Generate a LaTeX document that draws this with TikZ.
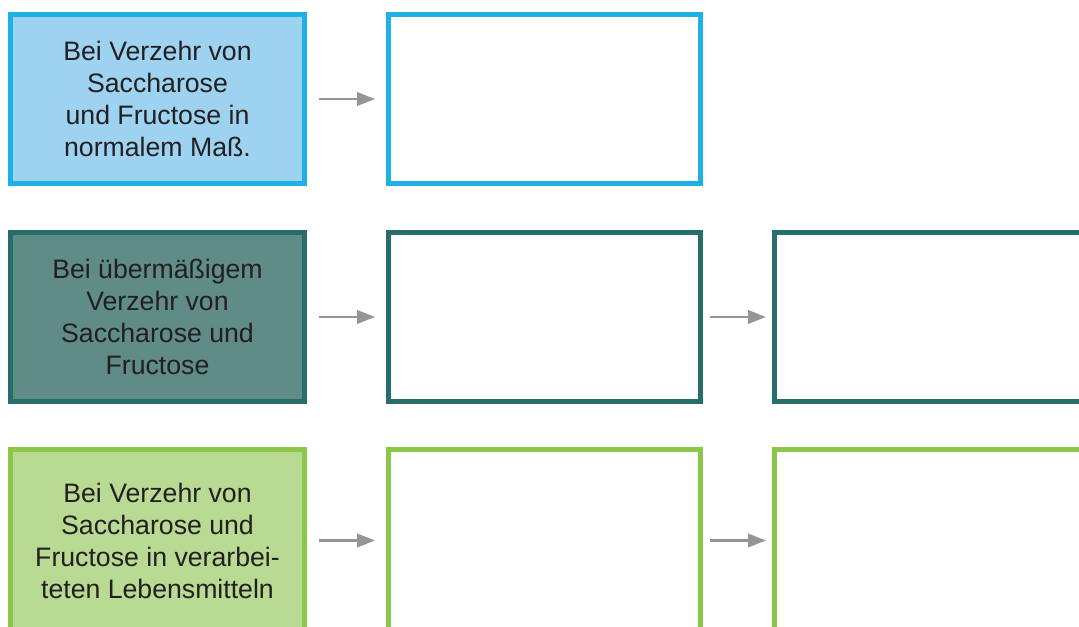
\documentclass[tikz,border=0pt]{standalone}
\usepackage{fontspec}
\setmainfont{Liberation Sans}
\usetikzlibrary{arrows.meta}

\definecolor{blaurand}{HTML}{1FB1E6}
\definecolor{blaufuell}{HTML}{9DD3F1}
\definecolor{tuerkisrand}{HTML}{276D69}
\definecolor{tuerkisfuell}{HTML}{5F8C87}
\definecolor{gruenrand}{HTML}{8DC74A}
\definecolor{gruenfuell}{HTML}{B8DA92}
\definecolor{pfeilgrau}{HTML}{939598}
\definecolor{schrift}{HTML}{231F20}

\begin{document}
\begin{tikzpicture}[x=0.75pt, y=-0.75pt,
    kasten/.style={rectangle, line width=3.75pt, minimum width=220.5pt, align=center,
        text=schrift, font=\fontsize{20}{24}\selectfont},
    leer/.style={rectangle, line width=3.75pt, fill=white, minimum width=234pt},
    pfeil/.style={draw=pfeilgrau, line width=2pt, -{Triangle[length=13.5pt, width=10pt]}}]
    % Rahmen
    \useasboundingbox (0,0) rectangle (1079,627);
    \clip (0,0) rectangle (1079,627);

    % Erste Reihe: normales Maß
    \node[kasten, draw=blaurand, fill=blaufuell, minimum height=126.75pt] (normal) at (157.5,99)
        {Bei Verzehr von\\Saccharose\\und Fructose in\\normalem Maß.};
    \node[leer, draw=blaurand, minimum height=126.75pt] (normalA) at (544.5,99) {};
    \draw[pfeil, shorten <=9pt, shorten >=8.2pt] (normal.east) -- (normalA.west);

    % Zweite Reihe: übermäßiger Verzehr
    \node[kasten, draw=tuerkisrand, fill=tuerkisfuell, minimum height=126.75pt] (viel) at (157.5,317)
        {Bei übermäßigem\\Verzehr von\\Saccharose und\\Fructose};
    \node[leer, draw=tuerkisrand, minimum height=126.75pt] (vielA) at (544.5,317) {};
    \node[leer, draw=tuerkisrand, minimum height=126.75pt] (vielB) at (930.5,317) {};
    \draw[pfeil, shorten <=9pt, shorten >=8.2pt] (viel.east) -- (vielA.west);
    \draw[pfeil, shorten <=5.2pt, shorten >=4.5pt] (vielA.east) -- (vielB.west);

    % Dritte Reihe: verarbeitete Lebensmittel
    \node[kasten, draw=gruenrand, fill=gruenfuell, minimum height=136.5pt] (verarb) at (157.5,540.5)
        {Bei Verzehr von\\Saccharose und\\Fructose in verarbei-\\teten Lebensmitteln};
    \node[leer, draw=gruenrand, minimum height=136.5pt] (verarbA) at (544.5,540.5) {};
    \node[leer, draw=gruenrand, minimum height=136.5pt] (verarbB) at (930.5,540.5) {};
    \draw[pfeil, shorten <=9pt, shorten >=8.2pt] (verarb.east) -- (verarbA.west);
    \draw[pfeil, shorten <=5.2pt, shorten >=4.5pt] (verarbA.east) -- (verarbB.west);
\end{tikzpicture}
\end{document}
